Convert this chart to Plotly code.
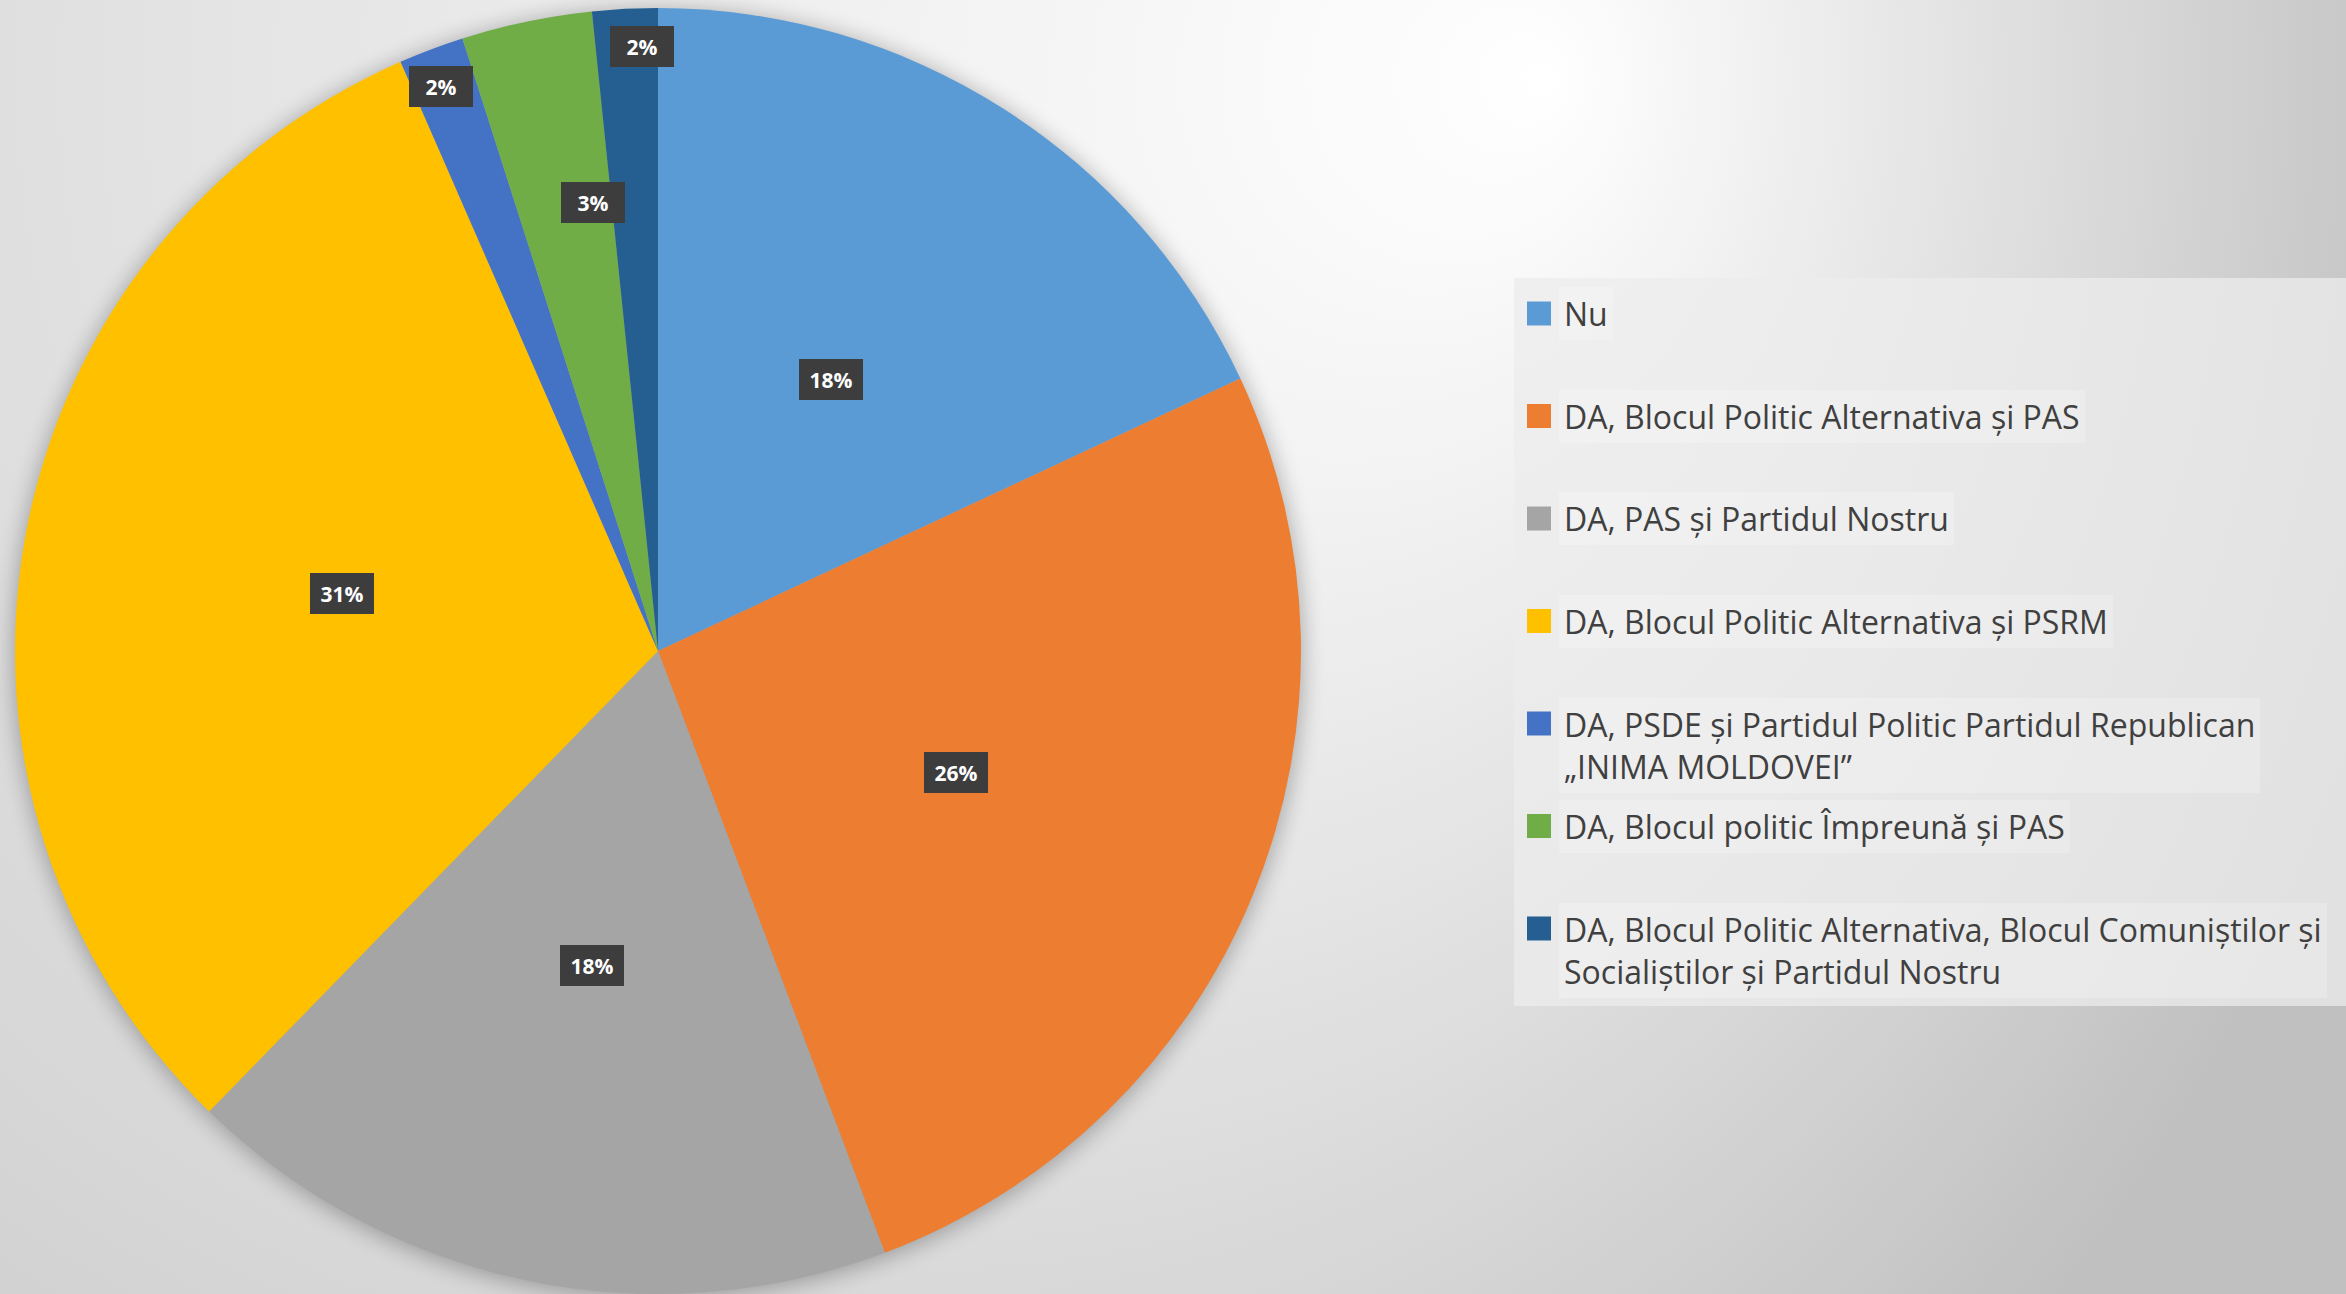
import base64
import math
import textwrap
import plotly.graph_objects as go

# ---------------- data ----------------
labels = [
    "Nu",
    "DA, Blocul Politic Alternativa și PAS",
    "DA, PAS și Partidul Nostru",
    "DA, Blocul Politic Alternativa și PSRM",
    "DA, PSDE și Partidul Politic Partidul Republican „INIMA MOLDOVEI”",
    "DA, Blocul politic Împreună și PAS",
    "DA, Blocul Politic Alternativa, Blocul Comuniștilor și Socialiștilor și Partidul Nostru",
]
values = [11, 16, 11, 19, 1, 2, 1]
colors = ["#5B9BD5", "#ED7D31", "#A5A5A5", "#FFC000", "#4472C4", "#70AD47", "#255E91"]

# ---------------- layout constants ----------------
W, H = 2346, 1294
TOP_GAP = 8.0
R = (H - TOP_GAP) / 2.0   # pie radius in px
CX = 658.0                # pie centre x in px
CY = TOP_GAP + R          # pie centre y in px (from top)
# label placement style: (radius fraction, angle nudge in degrees)
label_rf = [0.5, 0.5, 0.5, 0.5, 0.94, 0.705, 0.94]
label_nudge = [0, 0, 0, 0, -0.4, 3.6, 1.4]

# ---------------- background (gradient + pie shadow) ----------------
svg = f"""<svg xmlns='http://www.w3.org/2000/svg' width='{W}' height='{H}' viewBox='0 0 {W} {H}'>
<defs>
<radialGradient id='g' gradientUnits='userSpaceOnUse' cx='460' cy='80' r='2010' fx='1550' fy='80'>
<stop offset='0' stop-color='#ffffff'/><stop offset='1' stop-color='#c0c0c0'/>
</radialGradient>
<filter id='b' x='-20%' y='-20%' width='140%' height='140%'><feGaussianBlur stdDeviation='11'/></filter>
</defs>
<rect width='{W}' height='{H}' fill='url(#g)'/>
<circle cx='{CX}' cy='{CY + 3}' r='{R + 2}' fill='#000' opacity='0.28' filter='url(#b)'/>
</svg>"""
bg_uri = "data:image/svg+xml;base64," + base64.b64encode(svg.encode("utf-8")).decode("ascii")

fig = go.Figure()
fig.add_trace(go.Pie(
    labels=labels,
    values=values,
    sort=False,
    direction="clockwise",
    rotation=0,
    marker=dict(colors=colors, line=dict(width=0)),
    textinfo="none",
    hoverinfo="label+percent",
    showlegend=False,
    domain=dict(x=[(CX - R) / W, (CX + R) / W], y=[0, 1 - TOP_GAP / H]),
))

annotations = []
shapes = []

# ---------------- data labels (computed from values) ----------------
total = float(sum(values))
cum = 0.0
for i, v in enumerate(values):
    mid = (cum + v / 2.0) / total * 360.0 + label_nudge[i]
    cum += v
    th = math.radians(mid)
    r = label_rf[i] * R
    px = CX + r * math.sin(th)
    py = CY - r * math.cos(th)
    pct = round(v / total * 100)
    annotations.append(dict(
        x=px / W, y=1 - py / H, xref="paper", yref="paper",
        text=f"<b>{pct}%</b>", showarrow=False,
        font=dict(family="Open Sans", size=21, color="white"),
        bgcolor="#3d3d3d", borderwidth=0, borderpad=2,
        width=60, height=37, xanchor="center", yanchor="middle",
    ))

# ---------------- legend (built from labels/colors) ----------------
LEG_X0, LEG_X1 = 1514, W
LEG_Y0, LEG_Y1 = 278, 1006
shapes.append(dict(type="rect", xref="paper", yref="paper",
                   x0=LEG_X0 / W, x1=LEG_X1 / W,
                   y0=1 - LEG_Y1 / H, y1=1 - LEG_Y0 / H,
                   fillcolor="rgba(236,236,236,0.75)", line=dict(width=0), layer="above"))

first_y = 313.5
step = 102.5
line_h = 44
sw = 24
for i, (lab, col) in enumerate(zip(labels, colors)):
    yc = first_y + i * step
    lines = textwrap.wrap(lab, width=54)
    shapes.append(dict(type="rect", xref="paper", yref="paper",
                       x0=1527 / W, x1=(1527 + sw) / W,
                       y0=1 - (yc + sw / 2) / H, y1=1 - (yc - sw / 2) / H,
                       fillcolor=col, line=dict(width=0), layer="above"))
    ycenter = yc + (len(lines) - 1) * line_h / 2.0
    annotations.append(dict(
        x=1559 / W, y=1 - ycenter / H, xref="paper", yref="paper",
        text="<br>".join(lines), showarrow=False, align="left",
        font=dict(family="Open Sans", size=32, color="#404040"),
        bgcolor="rgba(255,255,255,0.22)", borderwidth=0, borderpad=5,
        xanchor="left", yanchor="middle",
    ))

fig.update_layout(
    width=W, height=H,
    margin=dict(l=0, r=0, t=0, b=0),
    paper_bgcolor="#d9d9d9",
    plot_bgcolor="rgba(0,0,0,0)",
    images=[dict(source=bg_uri, xref="paper", yref="paper", x=0, y=1,
                 sizex=1, sizey=1, sizing="stretch", xanchor="left", yanchor="top",
                 layer="below")],
    shapes=shapes,
    annotations=annotations,
    font=dict(family="Open Sans"),
)

fig.write_html(
    "out.html",
    config={"displayModeBar": False},
    post_script="document.body.style.margin='0';document.body.style.overflow='hidden';",
)
